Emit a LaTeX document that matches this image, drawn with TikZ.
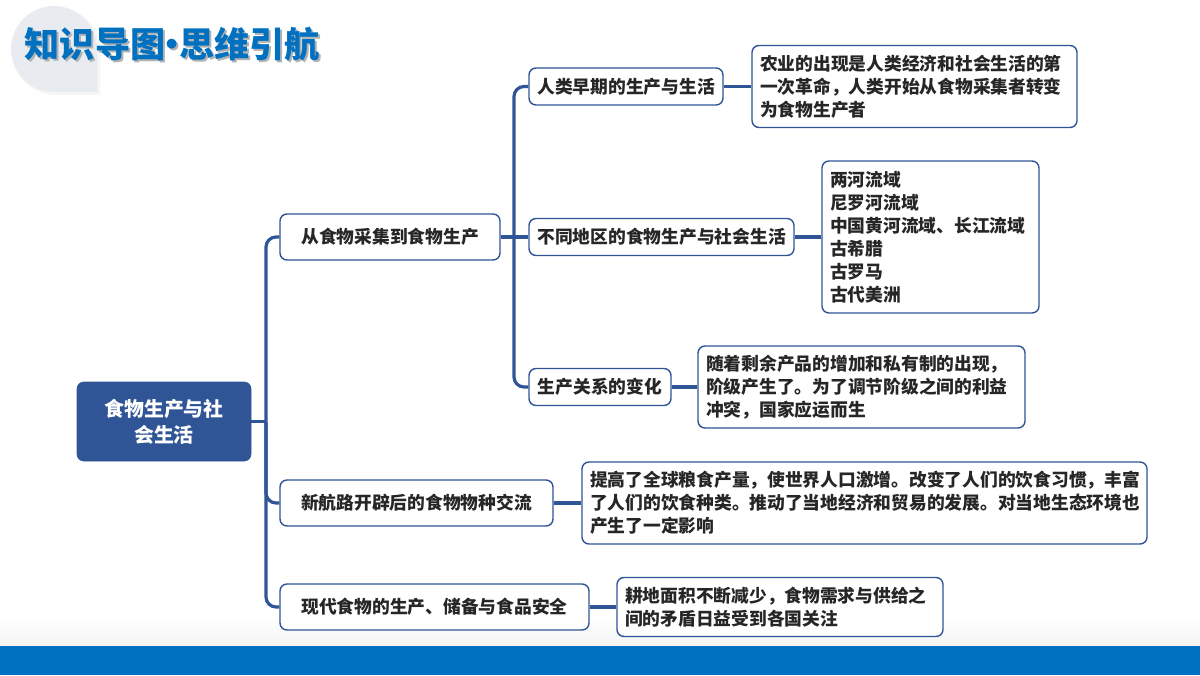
\documentclass[tikz,border=0pt]{standalone}
\usepackage{fontspec}
\setmainfont{Noto Sans CJK SC}
\definecolor{navy}{HTML}{2F5597}
\definecolor{barblue}{HTML}{0070C0}
\definecolor{tearcol}{HTML}{E8ECF1}
\definecolor{inkcol}{HTML}{262626}
\tikzset{
  topic/.style={draw=navy, line width=0.8pt, fill=white, rounded corners=0.14cm, text=inkcol,
    font=\fontsize{10.1}{13.1}\selectfont\bfseries, inner sep=0pt, align=center},
  leaf/.style={topic, align=left, inner xsep=0.16cm},
  link/.style={draw=navy, line width=1.8pt, rounded corners=0.2cm},
  headline/.style={anchor=west, font=\fontsize{20}{24}\selectfont\bfseries, inner sep=0pt}
}
\newcommand{\headtext}{知识导图\kern-0.3em·\kern-0.3em思维引航}
\begin{document}
\begin{tikzpicture}
\useasboundingbox (0,0) rectangle (24,13.5);

% фон
\shade [top color=white, bottom color=black!4] (0,0.58) rectangle (24,1.2);
\fill [barblue] (0,0) rectangle (24,0.58);

% заголовок
\fill [black!4] (2,12.48) arc [start angle=0, end angle=270, radius=0.88] -- (2,11.6) -- cycle;
\fill [tearcol] (1.94,12.52) arc [start angle=0, end angle=270, radius=0.86] -- (1.94,11.66) -- cycle;
\node (titleshade) [headline, text=black!30] at (0.53,12.57) {\headtext};
\node (title) [headline, text=barblue] at (0.49,12.61) {\headtext};

% корень
\node (root) [draw=navy, fill=navy, rounded corners=0.14cm, text=white, align=center,
  minimum width=3.48cm, minimum height=1.58cm, inner sep=0pt,
  font=\fontsize{11.3}{15}\selectfont\bfseries] at (3.28,5.07) {食物生产与社\\会生活};

% темы
\node (food) [topic, minimum width=4.4cm, minimum height=0.92cm] at (7.8,8.76) {从食物采集到食物生产};
\node (route) [topic, minimum width=5.46cm, minimum height=0.92cm] at (8.33,3.44) {新航路开辟后的食物物种交流};
\node (modern) [topic, minimum width=6.18cm, minimum height=0.92cm] at (8.69,1.36) {现代食物的生产、储备与食品安全};
\node (early) [topic, minimum width=3.88cm, minimum height=0.74cm] at (12.52,11.77) {人类早期的生产与生活};
\node (area) [topic, minimum width=5.3cm, minimum height=0.74cm] at (13.23,8.76) {不同地区的食物生产与社会生活};
\node (change) [topic, minimum width=2.84cm, minimum height=0.74cm] at (12,5.76) {生产关系的变化};

% подробности
\node (earlytxt) [leaf, text width=6.18cm, minimum height=1.64cm] at (18.29,11.77)
  {农业的出现是人类经济和社会生活的第\\一次革命，人类开始从食物采集者转变\\为食物生产者};
\node (areatxt) [leaf, text width=4.02cm, minimum height=3.04cm] at (18.61,8.76)
  {两河流域\\尼罗河流域\\中国黄河流域、长江流域\\古希腊\\古罗马\\古代美洲};
\node (changetxt) [leaf, text width=6.22cm, minimum height=1.64cm] at (17.23,5.76)
  {随着剩余产品的增加和私有制的出现，\\阶级产生了。为了调节阶级之间的利益\\冲突，国家应运而生};
\node (routetxt) [leaf, text width=10.98cm, minimum height=1.64cm] at (17.29,3.44)
  {提高了全球粮食产量，使世界人口激增。改变了人们的饮食习惯，丰富\\了人们的饮食种类。推动了当地经济和贸易的发展。对当地生态环境也\\产生了一定影响};
\node (moderntxt) [leaf, text width=6.2cm, minimum height=1.18cm] at (15.6,1.36)
  {耕地面积不断减少，食物需求与供给之\\间的矛盾日益受到各国关注};

% связи
\coordinate (trunk) at (5.32,5.07);
\coordinate (fork) at (10.28,8.76);
\draw [link] (root.east) -- (trunk);
\draw [link] (trunk) |- (food.west);
\draw [link] (trunk) |- (route.west);
\draw [link] (trunk) |- (modern.west);
\draw [link] (food.east) -- (area.west);
\draw [link] (fork) |- (early.west);
\draw [link] (fork) |- (change.west);
\draw [link] (early.east) -- (earlytxt.west);
\draw [link] (area.east) -- (areatxt.west);
\draw [link] (change.east) -- (changetxt.west);
\draw [link] (route.east) -- (routetxt.west);
\draw [link] (modern.east) -- (moderntxt.west);
\end{tikzpicture}
\end{document}
